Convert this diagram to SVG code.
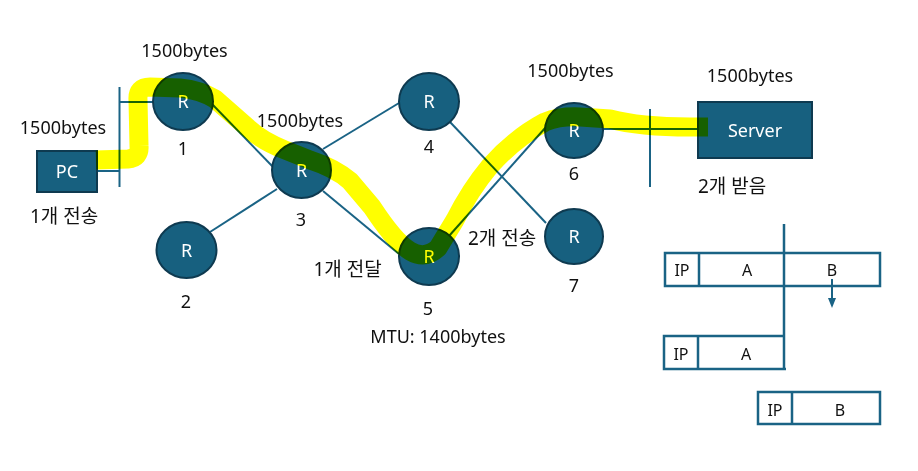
<svg xmlns="http://www.w3.org/2000/svg" width="918" height="471" viewBox="0 0 918 471">
<defs>
<style>
.t{font-family:"Noto Sans","Noto Sans CJK KR",sans-serif;font-size:18px;fill:#111;text-anchor:middle}
.k{font-family:"Noto Sans","Noto Sans CJK KR",sans-serif;font-size:19px;fill:#111;text-anchor:middle}
.s{font-family:"Noto Sans","Noto Sans CJK KR",sans-serif;font-size:16px;fill:#111;text-anchor:middle}
.w{font-family:"Noto Sans","Noto Sans CJK KR",sans-serif;font-size:18px;fill:#fff;text-anchor:middle}
.r{fill:#17607f;stroke:#0e3a50;stroke-width:2}
.c{stroke:#1a6385;stroke-width:2;fill:none}
.p{stroke:#1a6385;stroke-width:2.5;fill:none}
.hl{fill:none;stroke:#ffff00;stroke-width:19;stroke-linejoin:round;stroke-linecap:butt;mix-blend-mode:multiply}
</style>
<marker id="ah" viewBox="0 0 10 10" refX="5" refY="5" markerWidth="5" markerHeight="5" orient="auto"><path d="M0,1 L10,5 L0,9 z" fill="#1a6385"/></marker>
</defs>
<rect width="918" height="471" fill="#fff"/>
<g id="connectors">
<line class="c" x1="97" y1="171" x2="119" y2="171"/>
<line class="c" x1="119.5" y1="87" x2="119.5" y2="187"/>
<line class="c" x1="119" y1="102" x2="153" y2="102"/>
<line class="c" x1="212" y1="104" x2="274" y2="168"/>
<line class="c" x1="210" y1="232" x2="277" y2="189"/>
<line class="c" x1="323" y1="149" x2="399" y2="103"/>
<line class="c" x1="323" y1="191" x2="399" y2="254"/>
<line class="c" x1="450" y1="122" x2="546" y2="223"/>
<line class="c" x1="449" y1="236" x2="546" y2="127"/>
<line class="c" x1="603" y1="129" x2="698" y2="129"/>
<line class="c" x1="650" y1="109" x2="650" y2="187"/>
</g>
<g id="pc"><rect x="37" y="151" width="60" height="41" class="r"/><text class="w" x="67" y="178">PC</text></g>
<g id="r1"><ellipse cx="183" cy="101.5" rx="30" ry="28.5" class="r"/><text class="w" x="183" y="108">R</text></g>
<g id="r2"><ellipse cx="186.5" cy="250" rx="30" ry="28" class="r"/><text class="w" x="186.5" y="257">R</text></g>
<g id="r3"><ellipse cx="301.5" cy="170" rx="29.5" ry="28" class="r"/><text class="w" x="301.5" y="177">R</text></g>
<g id="r4"><ellipse cx="429" cy="101.5" rx="30" ry="28.5" class="r"/><text class="w" x="429" y="108">R</text></g>
<g id="r5"><ellipse cx="429" cy="256.5" rx="30" ry="28.5" class="r"/><text class="w" x="429" y="263">R</text></g>
<g id="r6"><ellipse cx="574" cy="130.5" rx="29" ry="27.5" class="r"/><text class="w" x="574" y="137">R</text></g>
<g id="r7"><ellipse cx="574" cy="236.5" rx="29" ry="27.5" class="r"/><text class="w" x="574" y="243">R</text></g>
<g id="server"><rect x="698" y="102" width="114" height="56" class="r"/><text class="w" x="755" y="137">Server</text></g>
<g id="labels">
<text class="t" x="184.5" y="57">1500bytes</text>
<text class="t" x="63" y="134">1500bytes</text>
<text class="k" x="64" y="223">1개 전송</text>
<text class="t" x="183" y="155">1</text>
<text class="t" x="300" y="127">1500bytes</text>
<text class="t" x="301" y="226">3</text>
<text class="t" x="429" y="153">4</text>
<text class="t" x="428" y="315">5</text>
<text class="t" x="574" y="180">6</text>
<text class="t" x="574" y="292">7</text>
<text class="t" x="186" y="308">2</text>
<text class="k" x="347.5" y="276">1개 전달</text>
<text class="k" x="502" y="245">2개 전송</text>
<text class="t" x="438" y="343">MTU: 1400bytes</text>
<text class="t" x="570.5" y="77">1500bytes</text>
<text class="t" x="750" y="82">1500bytes</text>
<text class="k" x="732" y="193">2개 받음</text>
</g>
<g id="packets">
<line class="p" x1="784" y1="224" x2="784" y2="368"/>
<rect class="p" x="665" y="253" width="215" height="33"/>
<line class="p" x1="699" y1="253" x2="699" y2="286"/>
<text class="s" x="682" y="276">IP</text>
<text class="s" x="747" y="276">A</text>
<text class="s" x="832" y="276">B</text>
<line class="c" x1="832" y1="279" x2="832" y2="303" marker-end="url(#ah)"/>
<path class="p" d="M784,336 L664,336 L664,369 L786,369"/>
<line class="p" x1="698" y1="336" x2="698" y2="369"/>
<text class="s" x="681" y="360">IP</text>
<text class="s" x="746" y="360">A</text>
<rect class="p" x="758" y="392" width="122" height="32"/>
<line class="p" x1="792" y1="392" x2="792" y2="424"/>
<text class="s" x="775" y="416">IP</text>
<text class="s" x="840" y="416">B</text>
</g>
<path class="hl" d="M96,160 L128,159 Q140,158 139,146 L138,100 Q137,87 150,87 L180,88 Q200,90 215,99 L248,128 Q262,141 285,150 L310,160 Q335,168 350,181 L372,207 Q395,242 410,251 Q425,260 438,248 L455,220 Q470,190 490,166 Q515,138 545,122 Q560,116 580,117 L610,119 Q640,127 690,127 L708,127"/>
</svg>
